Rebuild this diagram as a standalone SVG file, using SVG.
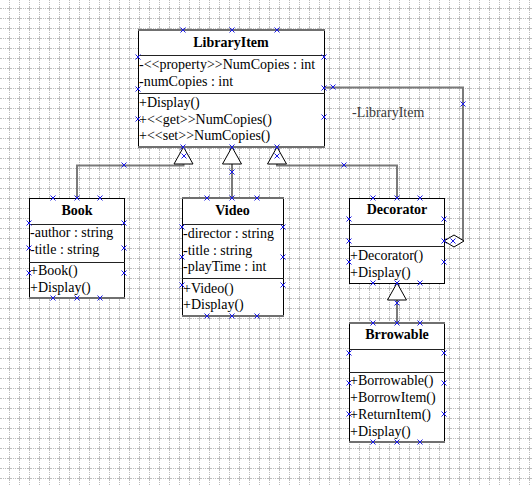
<svg xmlns="http://www.w3.org/2000/svg" xmlns:xlink="http://www.w3.org/1999/xlink" width="532" height="485" viewBox="0 0 532 485">
<style>
.box{fill:#fff;stroke:#000;stroke-width:1}
.div{stroke:#222;stroke-width:1.2}
.edge{stroke:#707070;stroke-width:2}
.t{font-family:"Liberation Serif","Times New Roman",serif;font-size:14px;fill:#000}
.ttl{font-weight:bold;text-anchor:middle}
.conn{fill:none;stroke:#7a7a7a;stroke-width:2}
.tri{fill:#fff;stroke:#000;stroke-width:1}
.lbl{font-family:"Liberation Serif","Times New Roman",serif;font-size:14px;fill:#3a3a3a}
.gl{stroke:#bdbdbd;stroke-width:1}
</style>
<defs>
<pattern id="grid" x="9" y="8" width="10" height="10" patternUnits="userSpaceOnUse">
<path class="gl" d="M0,0.5h10" stroke-dasharray="3 1 1 1 1 1 2 0"/>
<path class="gl" d="M0.5,0v10" stroke-dasharray="3 1 1 1 1 1 2 0"/>
</pattern>
<path id="x" d="M-2.5,-2.5L2.5,2.5M-2.5,2.5L2.5,-2.5" stroke="#1a1ae6" stroke-width="1" fill="none"/>
</defs>
<rect width="532" height="485" fill="#fff"/>
<rect width="532" height="485" fill="url(#grid)"/>

<g id="connectors">
<path class="conn" d="M77,198V165.5H183.5V164"/>
<path class="conn" d="M232,198V164"/>
<path class="conn" d="M397,198V165.5H277V164"/>
<path class="conn" d="M397,323V300"/>
<path class="conn" d="M324,87.5H463V241"/>
<polygon class="tri" points="183.5,147 174,164 193,164"/>
<polygon class="tri" points="232,147 222.5,164 241.5,164"/>
<polygon class="tri" points="277,147 267.5,164 286.5,164"/>
<polygon class="tri" points="397,283 387.5,300 406.5,300"/>
<polygon class="tri" points="444,241 454,235 464,241 454,247"/>
<text class="lbl" x="352" y="117">-LibraryItem</text>
</g>

<g id="LibraryItem">
<rect class="box" x="138.5" y="30.5" width="186" height="117"/>
<line class="edge" x1="138" y1="30" x2="325" y2="30"/>
<line class="edge" x1="138" y1="147" x2="325" y2="147"/>
<line class="div" x1="138" y1="55.5" x2="325" y2="55.5"/>
<line class="div" x1="138" y1="93.5" x2="325" y2="93.5"/>
<text class="t ttl" x="231" y="47">LibraryItem</text>
<text class="t" x="139" y="69">-&lt;&lt;property&gt;&gt;NumCopies : int</text>
<text class="t" x="139" y="86">-numCopies : int</text>
<text class="t" x="139" y="107">+Display()</text>
<text class="t" x="139" y="123.5">+&lt;&lt;get&gt;&gt;NumCopies()</text>
<text class="t" x="139" y="140">+&lt;&lt;set&gt;&gt;NumCopies()</text>
</g>

<g id="Book">
<rect class="box" x="29.5" y="198.5" width="95" height="100"/>
<line class="edge" x1="29" y1="298" x2="125" y2="298"/>
<line class="div" x1="29" y1="224.5" x2="125" y2="224.5"/>
<line class="div" x1="29" y1="262.5" x2="125" y2="262.5"/>
<text class="t ttl" x="77" y="215">Book</text>
<text class="t" x="30" y="237">-author : string</text>
<text class="t" x="30" y="254">-title : string</text>
<text class="t" x="30" y="275">+Book()</text>
<text class="t" x="30" y="292">+Display()</text>
</g>

<g id="Video">
<rect class="box" x="182.5" y="198.5" width="101" height="118"/>
<line class="edge" x1="182" y1="198" x2="284" y2="198"/>
<line class="edge" x1="182" y1="316" x2="284" y2="316"/>
<line class="div" x1="182" y1="224.5" x2="284" y2="224.5"/>
<line class="div" x1="182" y1="278.5" x2="284" y2="278.5"/>
<text class="t ttl" x="232.5" y="215">Video</text>
<text class="t" x="183" y="238">-director : string</text>
<text class="t" x="183" y="255">-title : string</text>
<text class="t" x="183" y="271">-playTime : int</text>
<text class="t" x="183" y="293">+Video()</text>
<text class="t" x="183" y="309">+Display()</text>
</g>

<g id="Decorator">
<rect class="box" x="349.5" y="198.5" width="95" height="85"/>
<line class="div" x1="349" y1="224.5" x2="445" y2="224.5"/>
<line class="div" x1="349" y1="246.5" x2="445" y2="246.5"/>
<text class="t ttl" x="397" y="214">Decorator</text>
<text class="t" x="350" y="260">+Decorator()</text>
<text class="t" x="350" y="277">+Display()</text>
</g>

<g id="Brrowable">
<rect class="box" x="349.5" y="323.5" width="95" height="119"/>
<line class="edge" x1="349" y1="323" x2="445" y2="323"/>
<line class="edge" x1="349" y1="442" x2="445" y2="442"/>
<line class="div" x1="349" y1="349.5" x2="445" y2="349.5"/>
<line class="div" x1="349" y1="372.5" x2="445" y2="372.5"/>
<text class="t ttl" x="397" y="339">Brrowable</text>
<text class="t" x="350" y="385">+Borrowable()</text>
<text class="t" x="350" y="402">+BorrowItem()</text>
<text class="t" x="350" y="419">+ReturnItem()</text>
<text class="t" x="350" y="436">+Display()</text>
</g>

<g id="markers">
<use href="#x" x="183" y="30"/><use href="#x" x="232" y="30"/><use href="#x" x="277" y="30"/>
<use href="#x" x="183" y="147"/><use href="#x" x="232" y="147"/><use href="#x" x="277" y="147"/>
<use href="#x" x="138" y="57"/><use href="#x" x="138" y="89"/><use href="#x" x="138" y="119"/>
<use href="#x" x="324" y="57"/><use href="#x" x="324" y="88"/><use href="#x" x="324" y="117"/>
<use href="#x" x="333" y="87"/><use href="#x" x="463" y="104"/>
<use href="#x" x="53" y="198"/><use href="#x" x="77" y="198"/><use href="#x" x="100" y="198"/>
<use href="#x" x="53" y="298"/><use href="#x" x="77" y="298"/><use href="#x" x="100" y="298"/>
<use href="#x" x="29" y="223"/><use href="#x" x="29" y="248"/><use href="#x" x="29" y="273"/>
<use href="#x" x="124" y="223"/><use href="#x" x="124" y="248"/><use href="#x" x="124" y="273"/>
<use href="#x" x="124" y="165"/>
<use href="#x" x="207" y="198"/><use href="#x" x="232" y="198"/><use href="#x" x="257" y="198"/>
<use href="#x" x="207" y="316"/><use href="#x" x="232" y="316"/><use href="#x" x="257" y="316"/>
<use href="#x" x="182" y="227"/><use href="#x" x="182" y="257"/><use href="#x" x="182" y="285"/>
<use href="#x" x="283" y="227"/><use href="#x" x="283" y="257"/><use href="#x" x="283" y="285"/>
<use href="#x" x="232" y="172"/><use href="#x" x="184" y="156"/><use href="#x" x="277" y="156"/>
<use href="#x" x="344" y="165"/>
<use href="#x" x="373" y="198"/><use href="#x" x="397" y="198"/><use href="#x" x="420" y="198"/>
<use href="#x" x="373" y="283"/><use href="#x" x="397" y="283"/><use href="#x" x="420" y="283"/>
<use href="#x" x="349" y="219"/><use href="#x" x="349" y="241"/><use href="#x" x="349" y="262"/>
<use href="#x" x="444" y="219"/><use href="#x" x="444" y="241"/><use href="#x" x="444" y="262"/>
<use href="#x" x="453" y="241"/><use href="#x" x="397" y="303"/>
<use href="#x" x="373" y="323"/><use href="#x" x="397" y="323"/><use href="#x" x="420" y="323"/>
<use href="#x" x="373" y="442"/><use href="#x" x="397" y="442"/><use href="#x" x="420" y="442"/>
<use href="#x" x="349" y="353"/><use href="#x" x="349" y="383"/><use href="#x" x="349" y="414"/>
<use href="#x" x="444" y="353"/><use href="#x" x="444" y="383"/><use href="#x" x="444" y="414"/>
</g>
</svg>
